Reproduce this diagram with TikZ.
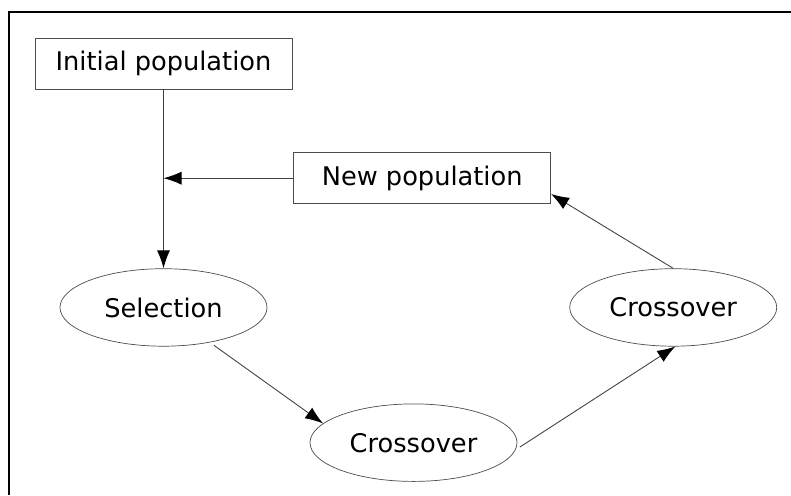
\documentclass[tikz,border=0pt]{standalone}
\usepackage{fontspec}
\setmainfont{DejaVu Sans}
\usetikzlibrary{positioning, arrows.meta, shapes.geometric}

\begin{document}
\begin{tikzpicture}
    [every node/.style={draw=black!70, align=center, font=\fontsize{14.6}{17}\selectfont},
     box/.style={rectangle, minimum width=5.14cm, minimum height=1.02cm, inner sep=0pt},
     ell/.style={ellipse, minimum width=4.14cm, minimum height=1.55cm, inner sep=0pt},
     arr/.style={draw=black!75, line width=0.5pt, -{Latex[length=0.36cm, width=0.26cm, black]}},
    ]
    \useasboundingbox (0,0) rectangle (15.82,-9.9);
    \draw [line width=0.8pt] (0.18,-9.9) -- (0.18,-0.24) -- (15.82,-0.24);

    \node (initial) [box] at (3.27,-1.27) {Initial population};
    \node (newpop) [box, below right=1.26cm and 0.02cm of initial] {New population};
    \node (selection) [ell, below=3.58cm of initial] {Selection};
    \node (crossA) [ell, below=1.14cm of selection, xshift=5cm] {Crossover};
    \node (crossB) [ell, right=6.04cm of selection] {Crossover};

    \coordinate (join) at (newpop.west -| initial.south);

    \draw [arr] (initial) -- (selection);
    \draw [arr] (newpop.west) -- (join);
    \draw [arr, shorten <=0.1cm] (selection.-37) -- (crossA.168);
    \draw [arr, shorten <=0.1cm] (crossA.-4) -- (crossB.-87);
    \draw [arr] (crossB.north) -- (newpop.-7);

\end{tikzpicture}
\end{document}
